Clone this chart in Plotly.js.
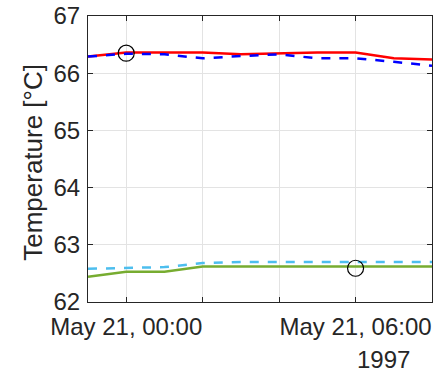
<!DOCTYPE html>
<html><head><meta charset="utf-8">
<script src="https://cdn.plot.ly/plotly-3.0.1.min.js"></script>
<style>html,body{margin:0;padding:0;background:#fff}#c{width:434px;height:371px}</style>
</head><body><div id="c"></div>
<script>
const times = ['1997-05-20 23:00','1997-05-21 00:00','1997-05-21 01:00','1997-05-21 02:00','1997-05-21 03:00','1997-05-21 04:00','1997-05-21 05:00','1997-05-21 06:00','1997-05-21 07:00','1997-05-21 08:00'];
const redVals   = [66.29, 66.36, 66.36, 66.36, 66.33, 66.35, 66.36, 66.36, 66.26, 66.24];
const blueVals  = [66.29, 66.34, 66.33, 66.26, 66.30, 66.33, 66.26, 66.26, 66.20, 66.13];
const greenVals = [62.44, 62.53, 62.53, 62.62, 62.62, 62.62, 62.62, 62.62, 62.62, 62.62];
const cyanVals  = [62.58, 62.59, 62.61, 62.68, 62.70, 62.70, 62.70, 62.70, 62.70, 62.70];
const circleTimes = ['1997-05-21 00:00','1997-05-21 06:00'];
const circleVals  = [66.35, 62.59];
const xTickVals = ['1997-05-21 00:00','1997-05-21 02:00','1997-05-21 04:00','1997-05-21 06:00'];
const xTickText = ['May 21, 00:00','','','May 21, 06:00'];
const yTickVals = [62,63,64,65,66,67];

const fontFam = 'Liberation Sans, Arial, sans-serif';
const txtCol = '#262626';
const fs = 24;
const tfs = 26;
const traces = [
  {x: times, y: cyanVals, mode:'lines', line:{color:'#4DBEEE', width:2.5, dash:'dash'}},
  {x: times, y: greenVals, mode:'lines', line:{color:'#77AC30', width:2.5}},
  {x: times, y: redVals, mode:'lines', line:{color:'#FF0000', width:2.5}},
  {x: times, y: blueVals, mode:'lines', line:{color:'#0000FF', width:2.5, dash:'dash'}},
  {x: circleTimes, y: circleVals, mode:'markers', marker:{symbol:'circle-open', size:16, color:'#000000', line:{width:1.2, color:'#000000'}}}
];
const layout = {
  width:434, height:371,
  margin:{l:88, r:2, t:16, b:69},
  showlegend:false,
  paper_bgcolor:'#fff', plot_bgcolor:'#fff',
  font:{family:fontFam, size:fs, color:txtCol},
  xaxis:{type:'date', range:['1997-05-20 23:00','1997-05-21 08:00'],
    tickmode:'array', tickvals:xTickVals, ticktext:xTickText,
    ticks:'inside', ticklen:5, tickcolor:txtCol, tickwidth:1,
    showgrid:true, gridcolor:'#e3e3e3', gridwidth:1,
    showline:true, linecolor:txtCol, linewidth:1, mirror:'ticks',
    zeroline:false, tickfont:{size:fs, color:txtCol, family:fontFam}, tickangle:0,
    ticklabelstandoff:3},
  yaxis:{range:[62,67], tickvals:yTickVals,
    ticks:'inside', ticklen:5, tickcolor:txtCol, tickwidth:1,
    showgrid:true, gridcolor:'#e3e3e3', gridwidth:1,
    showline:true, linecolor:txtCol, linewidth:1, mirror:'ticks',
    zeroline:false, tickfont:{size:fs, color:txtCol, family:fontFam},
    ticklabelstandoff:2},
  annotations:[
    {text:'1997', xref:'paper', yref:'paper', x:0.86, y:-0.2, xanchor:'center', yanchor:'middle', showarrow:false, font:{size:fs, color:txtCol, family:fontFam}},
    {text:'Temperature [°C]', xref:'paper', yref:'paper', x:-0.16, y:0.49, xanchor:'center', yanchor:'middle', textangle:-90, showarrow:false, font:{size:tfs, color:txtCol, family:fontFam}}
  ]
};
Plotly.newPlot('c', traces, layout, {displayModeBar:false, staticPlot:true});
</script></body></html>
